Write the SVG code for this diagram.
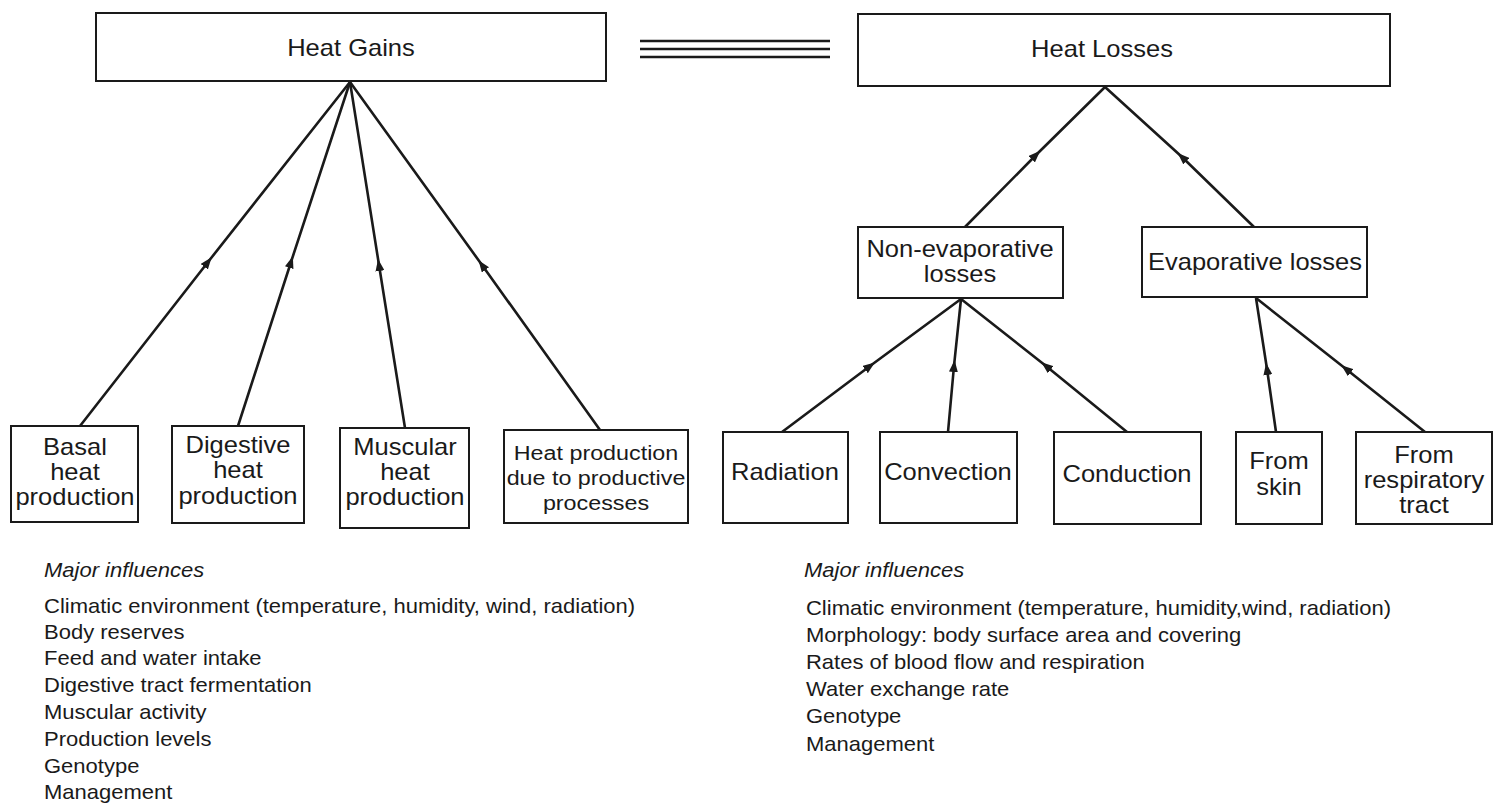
<svg xmlns="http://www.w3.org/2000/svg" width="1502" height="804" viewBox="0 0 1502 804">
  <style>
    .box { fill: #fff; stroke: #1a1a1a; stroke-width: 2; }
    .edge { fill: none; stroke: #1a1a1a; stroke-width: 2.6; marker-mid: url(#ah); }
    text { font-family: "Liberation Sans", Arial, sans-serif; fill: #1a1a1a; }
    .t { font-size: 23px; text-anchor: middle; }
    .ts { font-size: 21px; text-anchor: middle; }
    .l { font-size: 20px; }
    .it { font-style: italic; }
    /* the lettering of this figure is set slightly wide */
    .t, .ts { transform-box: fill-box; transform-origin: center; transform: scaleX(1.11); }
    .l { transform-box: fill-box; transform-origin: left center; transform: scaleX(1.1); }
  </style>
  <defs>
    <marker id="ah" viewBox="0 0 12 9" refX="6" refY="4.5" markerWidth="12" markerHeight="9" markerUnits="userSpaceOnUse" orient="auto">
      <path d="M0,0 L12,4.5 L0,9 z" fill="#1a1a1a"/>
    </marker>
  </defs>

  <rect width="1502" height="804" fill="#fff"/>

  <!-- connectors: each runs from child up to parent, arrowhead at its mid vertex -->
  <g id="connectors">
    <path class="edge" d="M80,426 L208,262 L350,82"/>
    <path class="edge" d="M238,426 L291,262 L350,82"/>
    <path class="edge" d="M405,428 L379,265 L350,82"/>
    <path class="edge" d="M600,430 L482,265 L350,82"/>

    <path class="edge" d="M965,227 L1036,155 L1105,87"/>
    <path class="edge" d="M1254,227 L1182,157 L1105,87"/>

    <path class="edge" d="M782,432 L870,366 L961,299"/>
    <path class="edge" d="M948,432 L954,366 L961,299"/>
    <path class="edge" d="M1127,432 L1046,366 L961,299"/>

    <path class="edge" d="M1276,432 L1267,369 L1256,298"/>
    <path class="edge" d="M1425,432 L1346,369 L1256,298"/>
  </g>

  <!-- equivalence sign between the two totals -->
  <g id="equivalence" stroke="#1a1a1a" stroke-width="2.6">
    <line x1="640" y1="41" x2="830" y2="41"/>
    <line x1="640" y1="49" x2="830" y2="49"/>
    <line x1="640" y1="57" x2="830" y2="57"/>
  </g>

  <g id="heat-gains">
    <rect class="box" x="96" y="13" width="510" height="68"/>
    <text class="t" x="351" y="56">Heat Gains</text>
  </g>

  <g id="heat-losses">
    <rect class="box" x="858" y="14" width="532" height="72"/>
    <text class="t" x="1102" y="57">Heat Losses</text>
  </g>

  <g id="non-evaporative">
    <rect class="box" x="858" y="227" width="205" height="71"/>
    <text class="t" x="960" y="257">Non-evaporative</text>
    <text class="t" x="960" y="282">losses</text>
  </g>

  <g id="evaporative">
    <rect class="box" x="1142" y="227" width="225" height="70"/>
    <text class="t" x="1255" y="270">Evaporative losses</text>
  </g>

  <g id="basal">
    <rect class="box" x="11" y="426" width="127" height="96"/>
    <text class="t" x="75" y="455">Basal</text>
    <text class="t" x="75" y="480">heat</text>
    <text class="t" x="75" y="505">production</text>
  </g>

  <g id="digestive">
    <rect class="box" x="172" y="426" width="132" height="97"/>
    <text class="t" x="238" y="453">Digestive</text>
    <text class="t" x="238" y="478">heat</text>
    <text class="t" x="238" y="504">production</text>
  </g>

  <g id="muscular">
    <rect class="box" x="340" y="428" width="129" height="100"/>
    <text class="t" x="405" y="455">Muscular</text>
    <text class="t" x="405" y="480">heat</text>
    <text class="t" x="405" y="505">production</text>
  </g>

  <g id="productive">
    <rect class="box" x="504" y="430" width="184" height="93"/>
    <text class="ts" x="596" y="460">Heat production</text>
    <text class="ts" x="596" y="485">due to productive</text>
    <text class="ts" x="596" y="510">processes</text>
  </g>

  <g id="radiation">
    <rect class="box" x="723" y="432" width="125" height="91"/>
    <text class="t" x="785" y="480">Radiation</text>
  </g>

  <g id="convection">
    <rect class="box" x="880" y="432" width="137" height="91"/>
    <text class="t" x="948" y="480">Convection</text>
  </g>

  <g id="conduction">
    <rect class="box" x="1054" y="432" width="147" height="92"/>
    <text class="t" x="1127" y="482">Conduction</text>
  </g>

  <g id="from-skin">
    <rect class="box" x="1236" y="432" width="86" height="92"/>
    <text class="t" x="1279" y="469">From</text>
    <text class="t" x="1279" y="495">skin</text>
  </g>

  <g id="from-respiratory-tract">
    <rect class="box" x="1356" y="432" width="136" height="92"/>
    <text class="t" x="1424" y="463">From</text>
    <text class="t" x="1424" y="488">respiratory</text>
    <text class="t" x="1424" y="513">tract</text>
  </g>

  <g id="gain-influences">
    <text class="l it" x="44" y="577">Major influences</text>
    <text class="l" x="44" y="613">Climatic environment (temperature, humidity, wind, radiation)</text>
    <text class="l" x="44" y="639">Body reserves</text>
    <text class="l" x="44" y="665">Feed and water intake</text>
    <text class="l" x="44" y="692">Digestive tract fermentation</text>
    <text class="l" x="44" y="719">Muscular activity</text>
    <text class="l" x="44" y="746">Production levels</text>
    <text class="l" x="44" y="773">Genotype</text>
    <text class="l" x="44" y="799">Management</text>
  </g>

  <g id="loss-influences">
    <text class="l it" x="804" y="577">Major influences</text>
    <text class="l" x="806" y="615">Climatic environment (temperature, humidity,wind, radiation)</text>
    <text class="l" x="806" y="642">Morphology: body surface area and covering</text>
    <text class="l" x="806" y="669">Rates of blood flow and respiration</text>
    <text class="l" x="806" y="696">Water exchange rate</text>
    <text class="l" x="806" y="723">Genotype</text>
    <text class="l" x="806" y="751">Management</text>
  </g>
</svg>
